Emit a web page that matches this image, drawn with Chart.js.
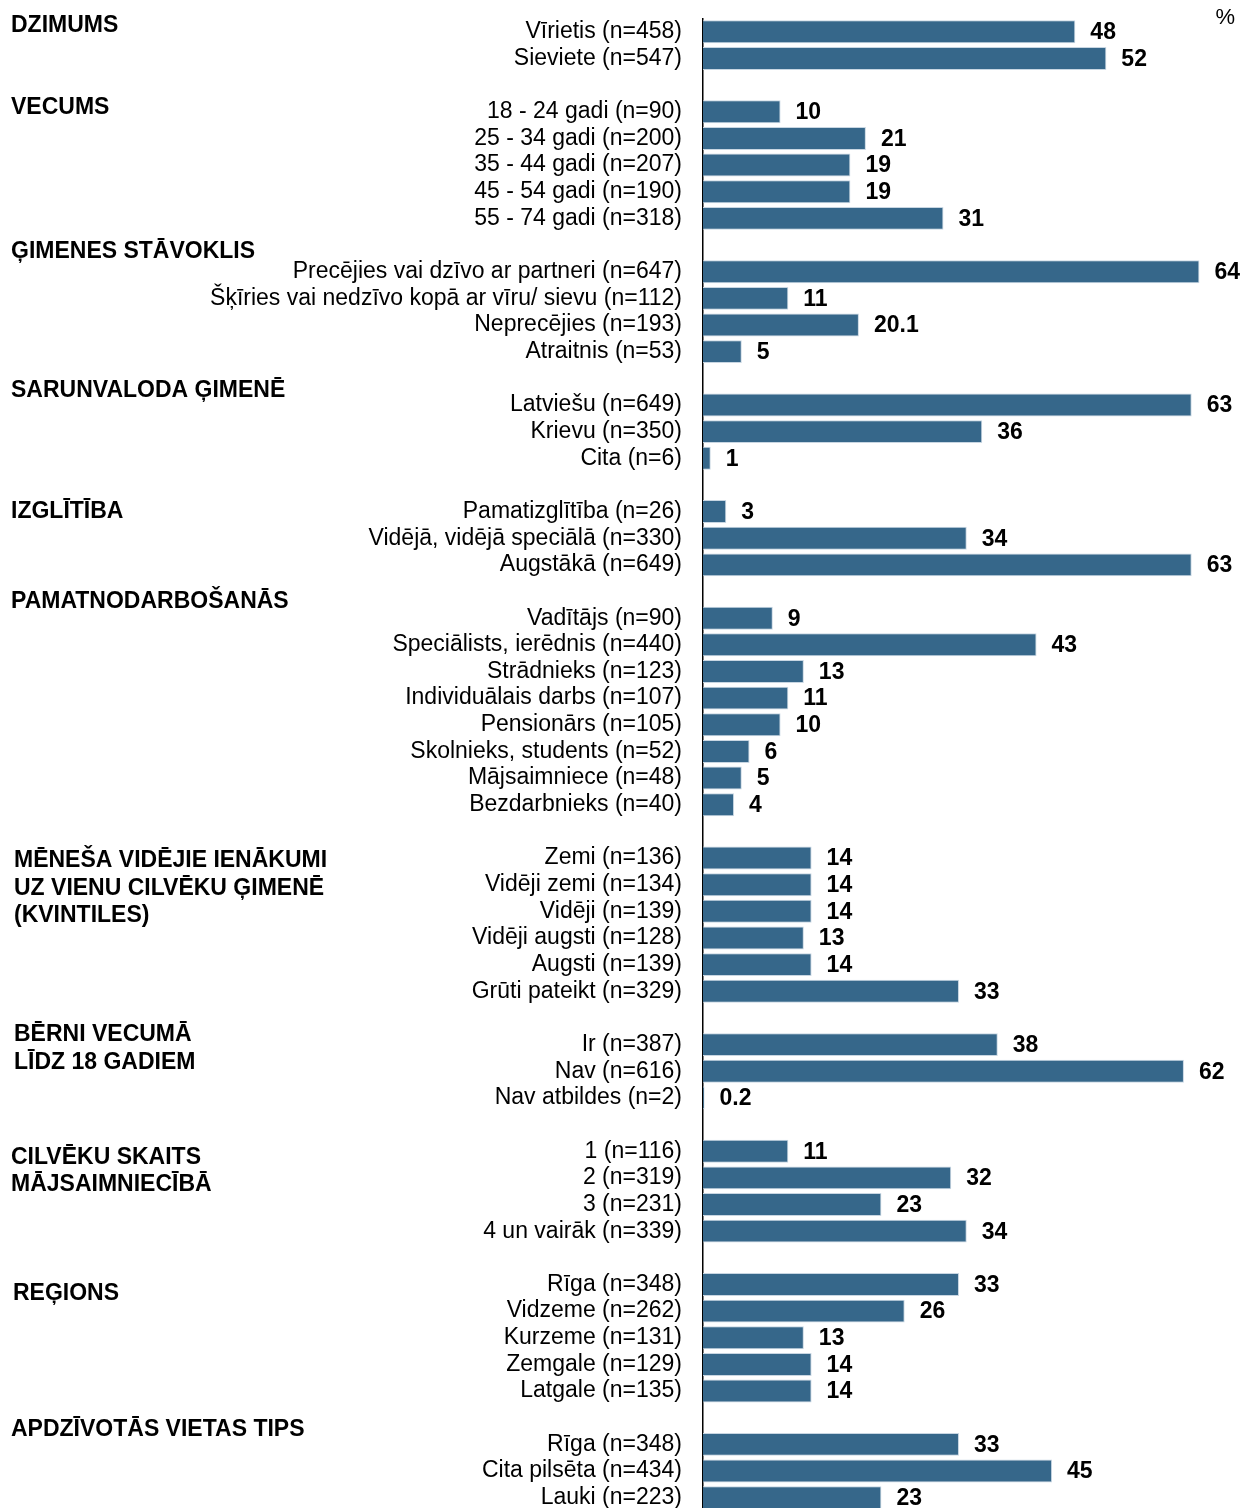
<!DOCTYPE html>
<html>
<head>
<meta charset="utf-8">
<script src="https://cdn.jsdelivr.net/npm/chart.js@4.4.0/dist/chart.umd.min.js"></script>
<style>
html, body { margin: 0; padding: 0; background: #fff; overflow: hidden; }
#wrap { width: 1246px; height: 1511px; position: relative; }
</style>
</head>
<body>
<div id="wrap"><canvas id="myChart"></canvas></div>
<script>
// group headers (each entry = lines of the header)
const groupNames = [
    ['DZIMUMS'],
    ['VECUMS'],
    ['ĢIMENES STĀVOKLIS'],
    ['SARUNVALODA ĢIMENĒ'],
    ['IZGLĪTĪBA'],
    ['PAMATNODARBOŠANĀS'],
    ['MĒNEŠA VIDĒJIE IENĀKUMI', 'UZ VIENU CILVĒKU ĢIMENĒ', '(KVINTILES)'],
    ['BĒRNI VECUMĀ', 'LĪDZ 18 GADIEM'],
    ['CILVĒKU SKAITS', 'MĀJSAIMNIECĪBĀ'],
    ['REĢIONS'],
    ['APDZĪVOTĀS VIETAS TIPS']
];

const dzimums = ['Vīrietis (n=458)', 'Sieviete (n=547)'];
const dzimumsVal = [48, 52];
const vecums = ['18 - 24 gadi (n=90)', '25 - 34 gadi (n=200)', '35 - 44 gadi (n=207)', '45 - 54 gadi (n=190)', '55 - 74 gadi (n=318)'];
const vecumsVal = [10, 21, 19, 19, 31];
const gimene = ['Precējies vai dzīvo ar partneri (n=647)', 'Šķīries vai nedzīvo kopā ar vīru/ sievu (n=112)', 'Neprecējies (n=193)', 'Atraitnis (n=53)'];
const gimeneVal = [64, 11, 20.1, 5];
const valoda = ['Latviešu (n=649)', 'Krievu (n=350)', 'Cita (n=6)'];
const valodaVal = [63, 36, 1];
const izglitiba = ['Pamatizglītība (n=26)', 'Vidējā, vidējā speciālā (n=330)', 'Augstākā (n=649)'];
const izglitibaVal = [3, 34, 63];
const nodarbosanas = ['Vadītājs (n=90)', 'Speciālists, ierēdnis (n=440)', 'Strādnieks (n=123)', 'Individuālais darbs (n=107)', 'Pensionārs (n=105)', 'Skolnieks, students (n=52)', 'Mājsaimniece (n=48)', 'Bezdarbnieks (n=40)'];
const nodarbosanasVal = [9, 43, 13, 11, 10, 6, 5, 4];
const ienakumi = ['Zemi (n=136)', 'Vidēji zemi (n=134)', 'Vidēji (n=139)', 'Vidēji augsti (n=128)', 'Augsti (n=139)', 'Grūti pateikt (n=329)'];
const ienakumiVal = [14, 14, 14, 13, 14, 33];
const berni = ['Ir (n=387)', 'Nav (n=616)', 'Nav atbildes (n=2)'];
const berniVal = [38, 62, 0.2];
const skaits = ['1 (n=116)', '2 (n=319)', '3 (n=231)', '4 un vairāk (n=339)'];
const skaitsVal = [11, 32, 23, 34];
const regioni = ['Rīga (n=348)', 'Vidzeme (n=262)', 'Kurzeme (n=131)', 'Zemgale (n=129)', 'Latgale (n=135)'];
const regioniVal = [33, 26, 13, 14, 14];
const vieta = ['Rīga (n=348)', 'Cita pilsēta (n=434)', 'Lauki (n=223)'];
const vietaVal = [33, 45, 23];

const groupCats = [dzimums, vecums, gimene, valoda, izglitiba, nodarbosanas, ienakumi, berni, skaits, regioni, vieta];
const groupVals = [dzimumsVal, vecumsVal, gimeneVal, valodaVal, izglitibaVal, nodarbosanasVal, ienakumiVal, berniVal, skaitsVal, regioniVal, vietaVal];

// header placement (row units on the category axis) - layout only
const headerRows = [-0.22, 2.85, 8.23, 13.48, 18.02, 21.39, 31.1, 37.63, 42.24, 47.34, 52.44];
const headerX = [11, 11, 11, 11, 11, 11, 14, 14, 11, 13, 11];

// flatten with one empty row between groups
const labels = [];
const values = [];
for (let g = 0; g < groupCats.length; g++) {
    if (g > 0) {
        labels.push('');
        values.push(null);
    }
    for (let i = 0; i < groupCats[g].length; i++) {
        labels.push(groupCats[g][i]);
        values.push(groupVals[g][i]);
    }
}

const FONT = "'Liberation Sans', Arial, sans-serif";
const BAR = '#36678a';

const extras = {
    id: 'extras',
    afterDatasetsDraw: function(chart) {
        const ctx = chart.ctx;
        const meta = chart.getDatasetMeta(0);
        ctx.save();
        ctx.fillStyle = '#000';
        ctx.font = 'bold 23px ' + FONT;
        ctx.textAlign = 'left';
        ctx.textBaseline = 'middle';
        meta.data.forEach(function(bar, i) {
            if (values[i] === null) return;
            ctx.fillText(String(values[i]), bar.x + 15, bar.y + 1);
        });
        ctx.restore();
    },
    afterDraw: function(chart) {
        const ctx = chart.ctx;
        const y = chart.scales.y;
        ctx.save();
        ctx.fillStyle = '#000';
        ctx.font = 'bold 23px ' + FONT;
        ctx.textAlign = 'left';
        ctx.textBaseline = 'middle';
        for (let g = 0; g < groupNames.length; g++) {
            let py = y.getPixelForValue(headerRows[g]);
            groupNames[g].forEach(function(line, k) {
                ctx.fillText(line, headerX[g], py + k * 27.5);
            });
        }
        ctx.font = '22px ' + FONT;
        ctx.textAlign = 'right';
        ctx.fillText('%', 1235, 18);
        ctx.restore();
    }
};

new Chart(document.getElementById('myChart'), {
    type: 'bar',
    data: {
        labels: labels,
        datasets: [{
            data: values,
            backgroundColor: BAR,
            borderColor: '#c8d6e2',
            borderWidth: 1,
            barPercentage: 0.86,
            categoryPercentage: 1
        }]
    },
    options: {
        indexAxis: 'y',
        responsive: true,
        maintainAspectRatio: false,
        animation: false,
        layout: {
            padding: { left: 0, right: 0, top: 18.5, bottom: 0 }
        },
        plugins: {
            legend: { display: false },
            tooltip: { enabled: false }
        },
        scales: {
            x: {
                display: false,
                min: 0,
                max: 70
            },
            y: {
                afterFit: function(scale) {
                    scale.width = 703;
                    scale.paddingTop = 0;
                    scale.paddingBottom = 0;
                },
                grid: { display: false },
                border: { display: true, color: '#000', width: 1.5 },
                ticks: {
                    autoSkip: false,
                    padding: 13,
                    color: '#000',
                    font: { family: FONT, size: 23 }
                }
            }
        }
    },
    plugins: [extras]
});
</script>
</body>
</html>
